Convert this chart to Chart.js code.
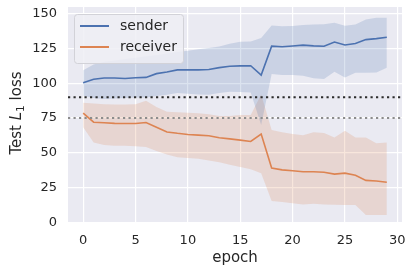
<!DOCTYPE html>
<html>
<head>
<meta charset="utf-8">
<script src="https://cdn.jsdelivr.net/npm/chart.js@4.4.0/dist/chart.umd.min.js"></script>
<style>
  html, body { margin: 0; padding: 0; background: #ffffff; }
  #wrap { width: 413px; height: 274px; position: relative; }
</style>
</head>
<body>
<div id="wrap"><canvas id="chartLoss"></canvas></div>
<script>
const epochs = [0, 1, 2, 3, 4, 5, 6, 7, 8, 9, 10, 11, 12, 13, 14, 15, 16, 17, 18, 19, 20, 21, 22, 23, 24, 25, 26, 27, 28, 29];
const xTickLabels = [0, 5, 10, 15, 20, 25, 30];
const yTickLabels = [0, 25, 50, 75, 100, 125, 150];

const senderMean = [100.5, 103, 103.8, 103.8, 103.5, 104, 104.3, 107, 108.2, 109.7, 109.7, 109.7, 110, 111.3, 112.3, 112.6, 112.7, 106, 126.8, 126.4, 126.9, 127.5, 127, 126.7, 129.8, 127.6, 128.7, 131.5, 132.2, 133.2];
const senderUpper = [109.5, 113.5, 115.5, 116.5, 117.5, 118.5, 119.5, 120.5, 121.5, 122.5, 123.5, 124.5, 125.5, 126.5, 128.5, 130, 130.2, 132.6, 141.7, 141.2, 141.4, 142, 142.4, 142.6, 143.6, 141.5, 142.4, 146, 147.2, 147.2];
const senderLower = [91, 89.5, 88.8, 89, 89.5, 89.8, 89.8, 90.8, 91.8, 93, 92.5, 92, 91.7, 93, 94, 93.8, 93.4, 70, 106.7, 106, 106, 105.5, 103.6, 103.1, 108.3, 104.3, 107.6, 107.6, 107.9, 111.2];

const receiverMean = [78.5, 72, 71.6, 71.2, 71.1, 71.1, 71.8, 68.4, 65, 64, 63.2, 62.7, 62.3, 60.8, 60, 59.1, 58.1, 63.5, 39, 37.7, 37, 36.3, 36.3, 36, 34.6, 35.3, 33.8, 30.1, 29.7, 28.7];
const receiverUpper = [86, 85.5, 85, 84.8, 84.8, 85, 87.5, 83, 79.5, 79.2, 78.9, 78.4, 77.7, 76.5, 76.5, 77.2, 77.2, 92, 66.4, 64.7, 63.5, 62.7, 64.7, 64.2, 61, 65.9, 61, 61, 56.9, 57.4];
const receiverLower = [68.4, 57.4, 55.6, 55.1, 55, 54.7, 54.2, 51.2, 48.8, 46.8, 46.3, 45.6, 44.4, 43.1, 41.4, 39.7, 38.2, 35.3, 15.2, 14.5, 13.7, 12.7, 13.2, 12.8, 12.5, 12.3, 12.3, 5.1, 5.1, 5.1];

// horizontal dotted reference lines
const refValues = [90, 75];
const refColors = ["#2b2b2b", "#8c8c8c"];

const seriesNames = ["sender", "receiver"];
const seriesColors = ["#4C72B0", "#DD8452"];
const bandColors = ["rgba(76, 114, 176, 0.2)", "rgba(221, 132, 82, 0.2)"];

const FONT = "'DejaVu Sans', sans-serif";
const TEXT = "#262626";

const pts = (arr) => arr.map((v, i) => ({ x: epochs[i], y: v }));

const bgPlugin = {
  id: "plotBg",
  beforeDraw(chart) {
    const { ctx, chartArea: a } = chart;
    ctx.save();
    ctx.fillStyle = "#EAEAF2";
    ctx.fillRect(a.left, a.top, a.right - a.left, a.bottom - a.top);
    ctx.restore();
  },
};

const refLinesPlugin = {
  id: "refLines",
  afterDatasetsDraw(chart) {
    const { ctx, chartArea: a, scales } = chart;
    ctx.save();
    ctx.lineWidth = 2;
    ctx.setLineDash([2.2, 3.3]);
    refValues.forEach((v, i) => {
      const y = scales.y.getPixelForValue(v);
      ctx.strokeStyle = refColors[i];
      ctx.beginPath();
      ctx.moveTo(a.left, y);
      ctx.lineTo(a.right, y);
      ctx.stroke();
    });
    ctx.restore();
  },
};

const legendPlugin = {
  id: "boxLegend",
  afterDraw(chart) {
    const ctx = chart.ctx;
    const x = 74, y = 14, w = 109, h = 49, r = 3;
    ctx.save();
    ctx.beginPath();
    ctx.roundRect(x + 0.5, y + 0.5, w, h, r);
    ctx.fillStyle = "rgba(238, 238, 244, 0.85)";
    ctx.fill();
    ctx.strokeStyle = "#d2d2d8";
    ctx.lineWidth = 1;
    ctx.stroke();
    ctx.font = "14px " + FONT;
    ctx.textBaseline = "middle";
    seriesNames.forEach((name, i) => {
      const cy = 26 + i * 21;
      ctx.strokeStyle = seriesColors[i];
      ctx.lineWidth = 2;
      ctx.beginPath();
      ctx.moveTo(80, cy);
      ctx.lineTo(109, cy);
      ctx.stroke();
      ctx.fillStyle = TEXT;
      ctx.fillText(name, 120, cy);
    });
    ctx.restore();
  },
};

// y title: "Test L₁ loss" with italic L and subscript 1
const yTitlePlugin = {
  id: "yTitle",
  afterDraw(chart) {
    const { ctx, chartArea: a } = chart;
    const parts = [
      { t: "Test ", f: "15px " + FONT, dy: 0 },
      { t: "L", f: "italic 15px " + FONT, dy: 0 },
      { t: "1", f: "10.5px " + FONT, dy: 3 },
      { t: " loss", f: "15px " + FONT, dy: 0 },
    ];
    ctx.save();
    ctx.translate(21, (a.top + a.bottom) / 2 - 2);
    ctx.rotate(-Math.PI / 2);
    ctx.fillStyle = TEXT;
    ctx.textBaseline = "alphabetic";
    let total = 0;
    parts.forEach((p) => {
      ctx.font = p.f;
      p.w = ctx.measureText(p.t).width;
      total += p.w;
    });
    let cx = -total / 2;
    parts.forEach((p) => {
      ctx.font = p.f;
      ctx.fillText(p.t, cx, p.dy);
      cx += p.w;
    });
    ctx.restore();
  },
};

const ctxLoss = document.getElementById("chartLoss");
new Chart(ctxLoss.getContext("2d"), {
  type: "line",
  data: {
    datasets: [
      {
        label: seriesNames[0],
        data: pts(senderMean),
        borderColor: seriesColors[0],
        borderWidth: 1.6,
        pointRadius: 0,
        fill: false,
        order: 0,
      },
      {
        label: seriesNames[1],
        data: pts(receiverMean),
        borderColor: seriesColors[1],
        borderWidth: 1.6,
        pointRadius: 0,
        fill: false,
        order: 0,
      },
      {
        label: "sender lower",
        data: pts(senderLower),
        borderWidth: 0,
        borderColor: "rgba(0,0,0,0)",
        pointRadius: 0,
        fill: false,
        order: 1,
      },
      {
        label: "sender upper",
        data: pts(senderUpper),
        borderWidth: 0,
        borderColor: "rgba(0,0,0,0)",
        backgroundColor: bandColors[0],
        pointRadius: 0,
        fill: "-1",
        order: 1,
      },
      {
        label: "receiver lower",
        data: pts(receiverLower),
        borderWidth: 0,
        borderColor: "rgba(0,0,0,0)",
        pointRadius: 0,
        fill: false,
        order: 1,
      },
      {
        label: "receiver upper",
        data: pts(receiverUpper),
        borderWidth: 0,
        borderColor: "rgba(0,0,0,0)",
        backgroundColor: bandColors[1],
        pointRadius: 0,
        fill: "-1",
        order: 1,
      },
    ],
  },
  options: {
    responsive: true,
    maintainAspectRatio: false,
    animation: false,
    layout: { padding: { left: 0, right: 11, top: 7, bottom: 0 } },
    plugins: {
      legend: { display: false },
      tooltip: { enabled: false },
    },
    scales: {
      x: {
        type: "linear",
        min: -1.45,
        max: 30.45,
        afterBuildTicks: (scale) => {
          scale.ticks = xTickLabels.map((v) => ({ value: v }));
        },
        afterFit: (scale) => {
          scale.height = 51;
          scale.paddingLeft = 0;
          scale.paddingRight = 0;
        },
        grid: { color: "#ffffff", lineWidth: 1.2, drawTicks: false },
        border: { display: false },
        ticks: {
          color: TEXT,
          font: { family: FONT, size: 13 },
          padding: 10,
          maxRotation: 0,
        },
        title: {
          display: true,
          text: "epoch",
          color: TEXT,
          font: { family: FONT, size: 15 },
          padding: { top: 0, bottom: 7 },
        },
      },
      y: {
        type: "linear",
        min: -0.6,
        max: 155,
        afterBuildTicks: (scale) => {
          scale.ticks = yTickLabels.map((v) => ({ value: v }));
        },
        afterFit: (scale) => {
          scale.width = 68;
          scale.paddingTop = 0;
          scale.paddingBottom = 0;
        },
        grid: { color: "#ffffff", lineWidth: 1.2, drawTicks: false },
        border: { display: false },
        ticks: {
          color: TEXT,
          font: { family: FONT, size: 13 },
          padding: 11,
        },
      },
    },
  },
  plugins: [bgPlugin, refLinesPlugin, legendPlugin, yTitlePlugin],
});
</script>
</body>
</html>
